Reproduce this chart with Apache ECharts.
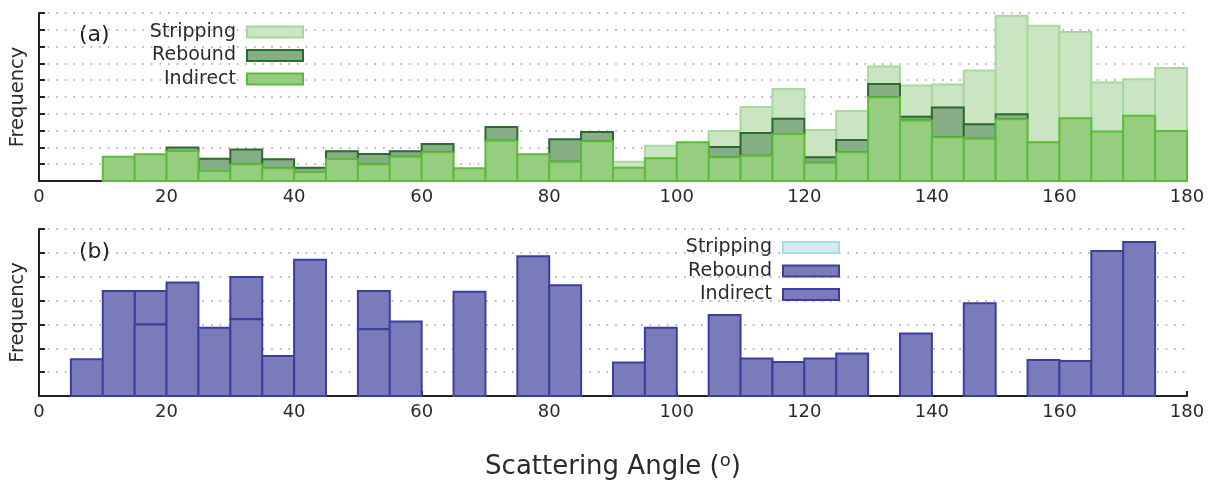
<!DOCTYPE html>
<html><head><meta charset="utf-8">
<script src="https://cdn.jsdelivr.net/npm/echarts@6/dist/echarts.min.js"></script>
<style>html,body{margin:0;padding:0;background:#fff}#c{width:1212px;height:481px}</style>
</head><body><div id="c"></div>
<script>
// ---- data ----
const binStarts = [0,5,10,15,20,25,30,35,40,45,50,55,60,65,70,75,80,85,90,95,100,105,110,115,120,125,130,135,140,145,150,155,160,165,170,175];
const binWidth = 5;
const xTickLabels = [0,20,40,60,80,100,120,140,160,180];
const seriesNames = ['Stripping','Rebound','Indirect'];

// panel (a)
const aIndirect  = [0,0,1.45,1.59,1.79,0.60,1.00,0.76,0.54,1.31,1.00,1.45,1.71,0.76,2.40,1.59,1.15,2.37,0.79,1.35,2.31,1.41,1.51,2.80,1.09,1.71,4.99,3.60,2.60,2.52,3.68,2.31,3.74,2.94,3.89,2.98];
const aRebound   = [0,0,0,0,0.20,0.73,0.87,0.53,0.25,0.46,0.61,0.32,0.49,0,0.82,0,1.34,0.55,0,0,0,0.62,1.35,0.90,0.32,0.73,0.79,0.22,1.77,0.86,0.30,0,0,0,0,0];
const aStripping = [0,0,0,0,0,0,0,0,0,0,0,0,0,0,0,0,0,0,0.36,0.75,0,0.95,1.55,1.77,1.63,1.73,1.04,1.86,1.37,3.20,5.86,6.93,5.13,2.92,2.17,3.74];

// panel (b)
const bIndirect  = [0,1.54,4.40,3.00,4.76,2.86,3.22,1.68,5.71,0,2.80,3.12,0,4.37,0,5.86,4.64,0,1.40,2.86,0,3.39,1.57,1.43,1.57,1.78,0,2.62,0,3.89,0,1.51,1.47,6.08,6.45,0];
const bRebound   = [0,0,0,1.40,0,0,1.77,0,0,0,1.60,0,0,0,0,0,0,0,0,0,0,0,0,0,0,0,0,0,0,0,0,0,0,0,0,0];
const bStripping = [0,0,0,0,0,0,0,0,0,0,0,0,0,0,0,0,0,0,0,0,0,0,0,0,0,0,0,0,0,0,0,0,0,0,0,0];

// ---- styles ----
const FONT = 'DejaVu Sans';
const styA = {
  Stripping: {fill:'#c9e5c2', stroke:'#a8d89b'},
  Rebound:   {fill:'#85ae85', stroke:'#2e6a2e'},
  Indirect:  {fill:'#97cd7f', stroke:'#5cba3c'}
};
const styB = {
  Stripping: {fill:'#d3ebf3', stroke:'#acdbe8'},
  Rebound:   {fill:'#7a7bbb', stroke:'#3a3f9f'},
  Indirect:  {fill:'#7a7bbb', stroke:'#3a3f9f'}
};

function stackedData(ind, reb, str) {
  const out = {Indirect:[], Rebound:[], Stripping:[]};
  binStarts.forEach((s, i) => {
    const l1 = ind[i], l2 = l1 + reb[i], l3 = l2 + str[i];
    if (ind[i] > 0) out.Indirect.push([s, s + binWidth, 0, l1]);
    if (reb[i] > 0) out.Rebound.push([s, s + binWidth, l1, l2]);
    if (str[i] > 0) out.Stripping.push([s, s + binWidth, l2, l3]);
  });
  return out;
}

function mkRender(sty) {
  return function (params, api) {
    const p0 = api.coord([api.value(0), api.value(3)]);
    const p1 = api.coord([api.value(1), api.value(2)]);
    return {
      type: 'rect',
      shape: {x: p0[0], y: p0[1], width: p1[0] - p0[0], height: p1[1] - p0[1]},
      style: {fill: sty.fill, stroke: sty.stroke, lineWidth: 2}
    };
  };
}

const dA = stackedData(aIndirect, aRebound, aStripping);
const dB = stackedData(bIndirect, bRebound, bStripping);

const series = [];
const order = ['Stripping','Rebound','Indirect'];
order.forEach((n, k) => {
  series.push({name:n, type:'custom', xAxisIndex:0, yAxisIndex:0, data:dA[n], renderItem:mkRender(styA[n]), z:2+k,
    itemStyle:{color:styA[n].fill}, encode:{x:[0,1], y:[2,3]}});
});
order.forEach((n, k) => {
  series.push({name:n, type:'custom', xAxisIndex:1, yAxisIndex:1, data:dB[n], renderItem:mkRender(styB[n]), z:2+k,
    itemStyle:{color:styB[n].fill}, encode:{x:[0,1], y:[2,3]}});
});

function xAxis(grid, extra) {
  return Object.assign({
    type:'value', gridIndex:grid, min:xTickLabels[0], max:xTickLabels[xTickLabels.length-1], interval:20,
    axisLine:{show:true, onZero:false, lineStyle:{color:'#222', width:2}},
    axisTick:{show:true, inside:true, length:5, lineStyle:{color:'#222', width:2}},
    axisLabel:{fontSize:18, color:'#2a2a2a', margin:7, fontFamily:FONT},
    splitLine:{show:false}
  }, extra || {});
}
function yAxis(grid, max) {
  return {
    type:'value', gridIndex:grid, min:0, max:max, interval:1,
    name:'Frequency', nameLocation:'middle', nameRotate:90, nameGap:11,
    nameTextStyle:{fontSize:19.5, color:'#2a2a2a', fontFamily:FONT},
    axisLine:{show:true, lineStyle:{color:'#222', width:2}},
    axisTick:{show:true, inside:true, length:6, lineStyle:{color:'#222', width:2}},
    axisLabel:{show:false},
    splitLine:{show:true, lineStyle:{color:'#a0a0a0', width:1.6, type:[1.6,7]}}
  };
}

function legend(sty, right, top) {
  return {
    orient:'vertical', align:'right', right:right, top:top, padding:0,
    itemWidth:56, itemHeight:11, itemGap:4.5, icon:'rect', selectedMode:false,
    formatter: name => name + ' ',
    textStyle:{fontSize:19, color:'#2a2a2a', fontFamily:FONT},
    data: seriesNames.map(n => ({name:n, icon:'rect', itemStyle:{color:sty[n].fill, borderColor:sty[n].stroke, borderWidth:2}}))
  };
}

const option = {
  animation:false,
  backgroundColor:'#fff',
  grid:[
    {left:37, top:13, width:1150, height:168},
    {left:37, top:229, width:1150, height:167}
  ],
  xAxis:[
    xAxis(0),
    xAxis(1, {
      name:'Scattering Angle ({sup|o})', nameLocation:'middle', nameGap:56,
      nameTextStyle:{fontSize:26, color:'#2a2a2a', fontFamily:FONT,
        rich:{sup:{fontSize:18, color:'#2a2a2a', fontFamily:FONT, verticalAlign:'top', padding:[0,0,12,0]}}}
    })
  ],
  yAxis:[ yAxis(0, 10), yAxis(1, 7) ],
  legend:[ legend(styA, 908, 22.5), legend(styB, 372, 238) ],
  graphic:[
    {type:'text', left:79, top:24, style:{text:'(a)', fontSize:22, fill:'#222', fontFamily:FONT}},
    {type:'text', left:79, top:241, style:{text:'(b)', fontSize:22, fill:'#222', fontFamily:FONT}}
  ],
  series: series
};

const chart = echarts.init(document.getElementById('c'), null, {renderer:'canvas'});
chart.setOption(option);
</script>
</body></html>
